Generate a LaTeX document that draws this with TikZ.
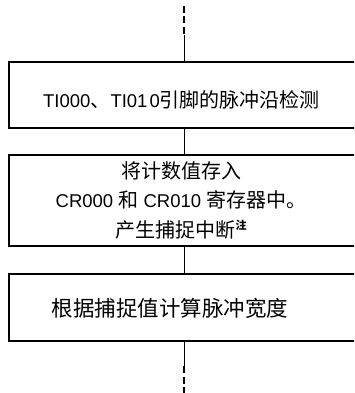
\documentclass[tikz,border=0pt]{standalone}
\usepackage{fontspec}
\setmainfont{Liberation Sans}
\newfontfamily\cjk{Noto Sans CJK SC}
\begin{document}
\begin{tikzpicture}[x=1pt,y=-1pt,
  box/.style={draw,line width=1.8pt,rectangle,minimum width=360pt,inner sep=0pt,anchor=north west},
  txt/.style={inner sep=0pt,align=center,font=\fontsize{18.5}{29.5}\selectfont},
  conn/.style={line width=1pt},
  dashconn/.style={line width=2pt,dash pattern=on 7pt off 3.5pt}]
\newcommand\zh[1]{{\cjk\fontsize{20}{29.5}\selectfont #1}}
\useasboundingbox (0,0) rectangle (354,393);
\clip (0,0) rectangle (354,393);
\node[box,minimum height=66pt] (b1) at (8,61) {};
\node[box,minimum height=91pt] (b2) at (8,154) {};
\node[box,minimum height=67pt] (b3) at (8,273) {};
\node[txt] (t1) at (181.5,100) {TI000\zh{、}TI01\kern2pt 0\zh{引脚的脉冲沿检测}};
\node[txt] (t2) at (181,200) {\zh{将计数值存入}\\CR000 \zh{和} CR010 \zh{寄存器中。}\\\zh{产生捕捉中断}\raisebox{8pt}{\cjk\bfseries\fontsize{11}{11}\selectfont 注}};
\node[txt,font=\fontsize{21.5}{24}\selectfont] (t3) at (170,308) {\cjk 根据捕捉值计算脉冲宽度};
\coordinate (top) at (184,6);
\coordinate (topj) at (184,35);
\coordinate (bot) at (184,400);
\coordinate (botj) at (184,366);
\draw[dashconn] (top) -- (topj);
\draw[conn] (topj) -- (topj |- b1.north);
\draw[conn] (b1.south -| topj) -- (b2.north -| topj);
\draw[conn] (b2.south -| topj) -- (b3.north -| topj);
\draw[conn] (b3.south -| botj) -- (botj);
\draw[dashconn] (botj) -- (bot);
\end{tikzpicture}
\end{document}
